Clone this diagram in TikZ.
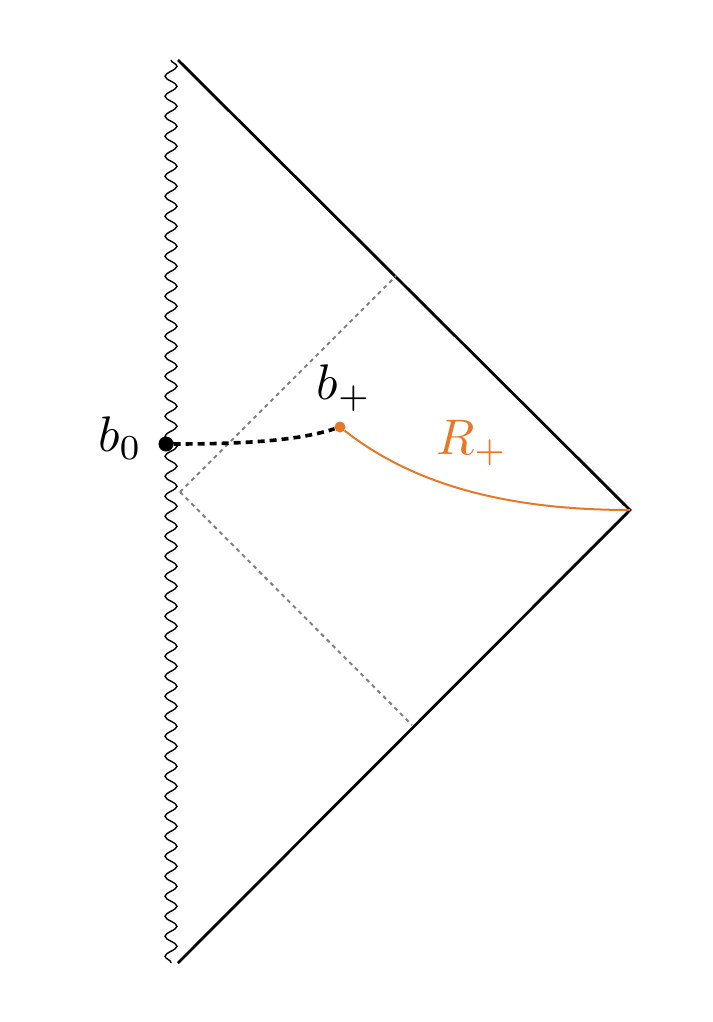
\documentclass[tikz,border=0pt]{standalone}
\usepackage{tikz}
\usepackage{graphicx}
\usetikzlibrary{decorations.pathmorphing}
\definecolor{rorange}{RGB}{230,120,40}
\newcommand{\biglab}[1]{\scalebox{5}{$#1$}}
\tikzset{
  edge/.style={draw=black, line width=2.8pt},
  sing/.style={draw=black, line width=1.4pt, decorate,
    decoration={snake, amplitude=6pt, segment length=20pt}},
  horizon/.style={draw=gray, dashed, dash pattern=on 4pt off 4pt, line width=2pt},
  dotpt/.style={circle, inner sep=0pt, minimum size=#1},
}
\begin{document}
\begin{tikzpicture}[x=1pt,y=-1pt]
  \useasboundingbox (0,0) rectangle (712,1022);
  % corners of the diagram
  \coordinate (top) at (178,60);
  \coordinate (bot) at (178,963);
  \coordinate (right) at (630,510);
  \coordinate (stop) at (171,60);
  \coordinate (sbot) at (171,963);
  \coordinate (mid) at (180,492);
  \coordinate (hup) at (396,276);
  \coordinate (hdown) at (412,725);
  \draw[sing] (stop) -- (sbot);
  \draw[edge] (top) -- (right) -- (bot);
  \draw[horizon] (mid) -- (hup);
  \draw[horizon] (mid) -- (hdown);
  % points
  \node[dotpt=15pt, fill=black] (b0) at (166,444) {};
  \node[dotpt=11pt, fill=rorange] (bp) at (340,427) {};
  \draw[black, line width=3.6pt, dash pattern=on 7pt off 5pt]
    (b0) .. controls (250,444) and (300,440) .. (bp);
  \draw[rorange, line width=2pt]
    (bp) .. controls (420,490) and (520,510) .. (right);
  % labels
  \node (lb0) at (120,438) {\biglab{b_0}};
  \node (lbp) at (344,388) {\biglab{b_+}};
  \node[text=rorange] (lr) at (472,443) {\biglab{R_+}};
\end{tikzpicture}
\end{document}
